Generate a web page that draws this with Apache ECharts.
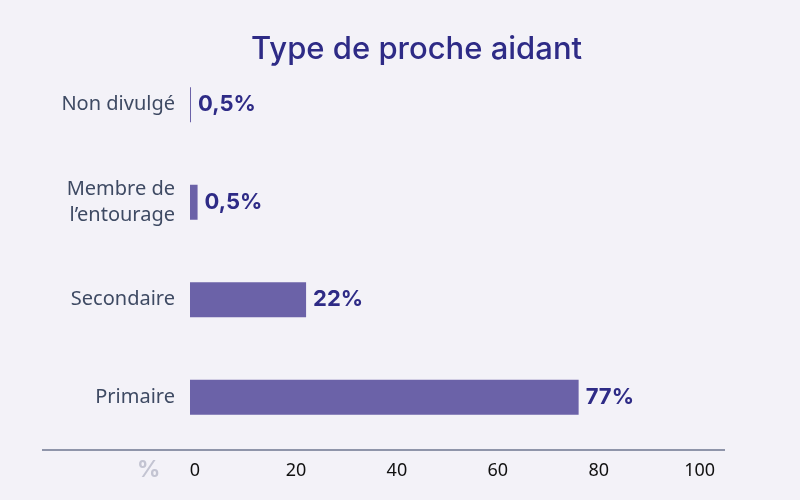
<!DOCTYPE html>
<html>
<head>
<meta charset="utf-8">
<script src="https://cdn.jsdelivr.net/npm/echarts@6/dist/echarts.min.js"></script>
<style>
  html, body { margin: 0; padding: 0; background: #f3f2f8; }
  #main { width: 800px; height: 500px; }
</style>
</head>
<body>
<div id="main"></div>
<script>
// data
const categories = ["Non divulgé", "Membre de\nl’entourage", "Secondaire", "Primaire"]
const values     = [0.2, 1.5, 23, 77]
const valueTexts = ["0,5%", "0,5%", "22%", "77%"]
const xTicks     = [0, 20, 40, 60, 80, 100]

const navy = "#2e2b86"

const options = {
  backgroundColor: "#f3f2f8",
  textStyle: { fontFamily: "Inter, 'Noto Sans', sans-serif" },
  title: {
    text: "Type de proche aidant",
    left: 246,
    top: 29,
    textStyle: { color: navy, fontSize: 31, fontWeight: 500, fontFamily: "Inter, sans-serif" }
  },
  grid: { left: 190, right: 75, top: 56, bottom: 54 },
  xAxis: {
    type: "value",
    min: 0,
    max: 106,
    interval: 20,
    axisLine: { show: false },
    axisTick: { show: false },
    splitLine: { show: false },
    axisLabel: {
      showMaxLabel: false,
      margin: 16,
      padding: [0, 0, 0, 10],
      color: "#111",
      fontSize: 18,
      fontFamily: "'Noto Sans', sans-serif",
      formatter: v => xTicks.includes(v) ? String(v) : ""
    }
  },
  yAxis: {
    type: "category",
    inverse: true,
    data: categories,
    axisLine: { show: false },
    axisTick: { show: false },
    axisLabel: {
      color: "#3e4a63",
      fontSize: 20,
      lineHeight: 26,
      margin: 15,
      align: "right",
      fontFamily: "'Noto Sans', sans-serif"
    }
  },
  series: [{
    type: "bar",
    data: values,
    barWidth: 35,
    itemStyle: { color: "#6b62a8" },
    label: {
      show: true,
      position: "right",
      distance: 7,
      color: navy,
      fontSize: 22,
      fontWeight: "bold",
      fontFamily: "Inter, sans-serif",
      formatter: p => valueTexts[p.dataIndex]
    }
  }],
  graphic: [
    {
      type: "line",
      shape: { x1: 42, y1: 450, x2: 725, y2: 450 },
      style: { stroke: "#6e7690", lineWidth: 1.5 }
    },
    {
      type: "text",
      left: 137,
      top: 459,
      style: { text: "%", fill: "#c3c4d2", fontSize: 23, fontWeight: "bold", fontFamily: "Inter, sans-serif" }
    }
  ]
}

const myChart = echarts.init(document.getElementById("main"))
myChart.setOption(options)
window.onresize = () => myChart.resize()
</script>
</body>
</html>
